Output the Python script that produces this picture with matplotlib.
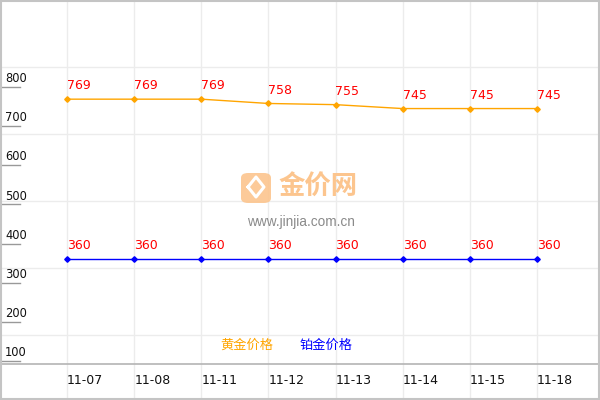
import matplotlib
matplotlib.use("Agg")
import matplotlib.pyplot as plt
import matplotlib.transforms as mtransforms
from matplotlib.patches import FancyBboxPatch, Rectangle

# data
dates = ['11-07', '11-08', '11-11', '11-12', '11-13', '11-14', '11-15', '11-18']
gold = [769, 769, 769, 758, 755, 745, 745, 745]
platinum = [360, 360, 360, 360, 360, 360, 360, 360]
ytick_vals = [100, 200, 300, 400, 500, 600, 700, 800]
gold_name = '黄金价格'
plat_name = '铂金价格'

cjk = ['Noto Sans CJK SC', 'DejaVu Sans']

fig = plt.figure(figsize=(6, 4), dpi=100)
ax = fig.add_axes([0, 0, 1, 1])
ax.set_axis_off()
ax.set_xlim(-1, 600 / 67.1 - 1)
ax.set_ylim(0, 1022.5)

xa = mtransforms.blended_transform_factory(ax.transData, ax.transAxes)
ya = mtransforms.blended_transform_factory(ax.transAxes, ax.transData)

# background grid (every 67 px)
for k in range(1, 6):
    ax.plot([0, 1], [1 - k * 67 / 400] * 2, transform=ax.transAxes, color='#ececec', lw=1, zorder=0)
for i in range(len(dates)):
    ax.axvline(i, color='#ececec', lw=1, zorder=0)

# bottom axis line and outer frame
ax.plot([0, 1], [36 / 400] * 2, transform=ax.transAxes, color='#b4b4b4', lw=1.2, zorder=1)
ax.add_patch(Rectangle((0.001, 0.002), 0.997, 0.996, transform=ax.transAxes, fill=False,
                       edgecolor='#c4c4c4', lw=1.5, zorder=5))

# y ticks
for v in ytick_vals:
    ax.plot([0, 20 / 600], [v, v], transform=ya, color='#999999', lw=1)
    ax.annotate(str(v), xy=(5 / 600, v), xycoords=ya, xytext=(0, 3.5), textcoords='offset points',
                ha='left', va='baseline', fontsize=8.3, color='#111111')

# watermark
ax.add_patch(FancyBboxPatch((241 / 600, 1 - 203 / 400), 30 / 600, 30 / 400, transform=ax.transAxes,
                            boxstyle='round,pad=0.0,rounding_size=0.012', facecolor='#fcc58e',
                            edgecolor='none', alpha=0.9, zorder=0.5))
ax.plot([248 / 600, 256 / 600, 264 / 600, 256 / 600, 248 / 600],
        [1 - 187 / 400, 1 - 177 / 400, 1 - 187 / 400, 1 - 197 / 400, 1 - 187 / 400],
        transform=ax.transAxes, color='white', lw=2.2, zorder=0.6)
ax.text(318 / 600, 1 - 187 / 400, '金价网', transform=ax.transAxes, ha='center', va='center',
        fontsize=19, fontweight='bold', color='#fcc58e', family=cjk, zorder=0.5)
ax.text(301 / 600, 1 - 222 / 400, 'www.jinjia.com.cn', transform=ax.transAxes, ha='center', va='center',
        fontsize=9.8, color='#8a8a8a', family='Liberation Sans', zorder=0.5)

# series
xs = list(range(len(dates)))
ax.plot(xs, gold, color='#ffa500', lw=1.0, marker='D', markersize=2.8, zorder=3)
ax.plot(xs, platinum, color='#0000ff', lw=1.0, marker='D', markersize=2.8, zorder=3)
for i in xs:
    ax.annotate(str(gold[i]), xy=(i, gold[i]), xytext=(0, 7), textcoords='offset points',
                ha='left', va='baseline', fontsize=9, color='#ff0000')
    ax.annotate(str(platinum[i]), xy=(i, platinum[i]), xytext=(0, 7), textcoords='offset points',
                ha='left', va='baseline', fontsize=9, color='#ff0000')
    ax.text(i, 20 / 400, dates[i], transform=xa, ha='left', va='center', fontsize=9, color='#111111')

# legend texts
ax.text(220 / 600, 55 / 400, gold_name, transform=ax.transAxes, ha='left', va='center',
        fontsize=9.5, color='#ffa500', family=cjk)
ax.text(300 / 600, 55 / 400, plat_name, transform=ax.transAxes, ha='left', va='center',
        fontsize=9.5, color='#0000ff', family=cjk)

fig.savefig('out.png', dpi=100)
